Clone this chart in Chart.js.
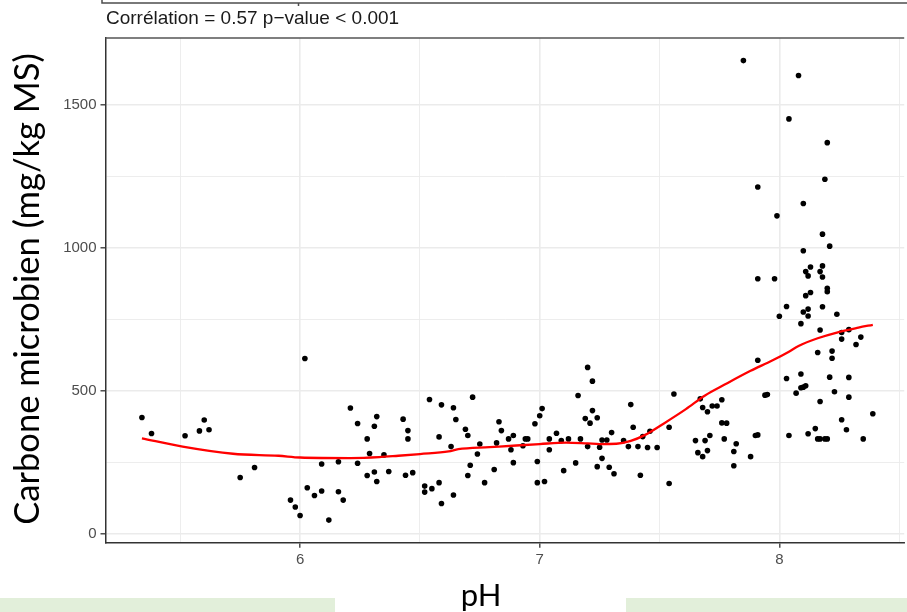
<!DOCTYPE html>
<html>
<head>
<meta charset="utf-8">
<script src="https://cdn.jsdelivr.net/npm/chart.js@4.4.1/dist/chart.umd.min.js"></script>
<style>
  html, body { margin: 0; padding: 0; background: #fff; overflow: hidden; }
  #wrap { position: relative; width: 907px; height: 612px; }
</style>
</head>
<body>
<div id="wrap"><canvas id="chart" width="907" height="612"></canvas></div>
<script>
// pH of each sample (x) and microbial carbon in mg/kg MS (y)
const phValues = [
  5.34, 5.38, 5.52, 5.58, 5.60, 5.62, 5.75, 5.81, 5.96, 5.98,
  6.00, 6.02, 6.03, 6.06, 6.09, 6.09, 6.12, 6.16, 6.16, 6.18,
  6.21, 6.24, 6.24, 6.28, 6.31, 6.32, 6.29, 6.28, 6.31, 6.32,
  6.35, 6.37, 6.43, 6.45, 6.45, 6.44, 6.47, 6.54, 6.59, 6.58,
  6.52, 6.52, 6.55, 6.58, 6.59, 6.64, 6.65, 6.63, 6.64, 6.72,
  6.69, 6.70, 6.75, 6.74, 6.71, 6.70, 6.77, 6.83, 6.84, 6.82,
  6.81, 6.87, 6.89, 6.88, 6.89, 6.93, 6.94, 6.95, 6.98, 7.00,
  7.01, 6.99, 6.99, 7.02, 7.04, 7.04, 7.07, 7.09, 7.10, 7.12,
  7.16, 7.15, 7.17, 7.20, 7.22, 7.19, 7.21, 7.22, 7.24, 7.20,
  7.25, 7.26, 7.28, 7.26, 7.24, 7.29, 7.31, 7.30, 7.35, 7.38,
  7.39, 7.37, 7.41, 7.42, 7.43, 7.46, 7.45, 7.49, 7.54, 7.54,
  7.56, 7.65, 7.67, 7.68, 7.70, 7.72, 7.74, 7.76, 7.76, 7.78,
  7.77, 7.71, 7.69, 7.66, 7.68, 7.70, 7.81, 7.82, 7.81, 7.88,
  7.90, 7.91, 7.94, 7.95, 7.91, 7.85, 8.08, 8.04, 8.20, 8.19,
  7.91, 8.10, 7.99, 8.18, 8.21, 8.10, 8.13, 8.11, 8.18, 8.17,
  8.12, 8.18, 7.91, 7.98, 8.20, 8.20, 8.13, 8.11, 8.03, 8.12,
  8.18, 8.10, 8.12, 8.00, 8.24, 8.09, 8.17, 8.29, 8.26, 8.26,
  8.34, 8.32, 8.16, 8.22, 8.22, 8.03, 8.09, 8.21, 8.29, 8.09,
  8.10, 8.11, 8.07, 8.23, 8.29, 8.17, 8.39, 8.26, 8.28, 8.15,
  8.12, 8.04, 8.16, 8.17, 8.19, 8.20, 8.35
];
const carbonValues = [
  407, 351, 343, 360, 398, 364, 197, 232, 118, 94,
  64, 613, 161, 134, 244, 150, 48, 252, 147, 118,
  440, 386, 247, 332, 376, 410, 281, 204, 216, 183,
  276, 218, 401, 361, 332, 205, 214, 470, 451, 339,
  167, 146, 158, 179, 106, 441, 400, 305, 136, 478,
  366, 344, 314, 279, 240, 204, 179, 392, 361, 318,
  225, 332, 344, 294, 249, 308, 332, 332, 385, 413,
  438, 253, 179, 183, 332, 294, 352, 326, 221, 332,
  484, 248, 332, 582, 534, 403, 387, 431, 406, 305,
  303, 328, 328, 264, 235, 233, 210, 354, 326, 452,
  373, 305, 305, 205, 340, 359, 302, 302, 373, 176,
  489, 326, 472, 442, 427, 447, 447, 469, 388, 387,
  332, 344, 326, 284, 270, 291, 288, 315, 238, 270,
  344, 346, 485, 487, 607, 1655, 1603, 1451, 1368, 1240,
  1213, 1155, 1112, 1048, 1006, 990, 933, 917, 937, 917,
  902, 898, 892, 892, 859, 847, 844, 833, 795, 786,
  794, 776, 762, 761, 768, 735, 713, 714, 704, 681,
  688, 662, 634, 639, 614, 543, 559, 548, 547, 511,
  513, 518, 492, 497, 478, 463, 420, 399, 364, 368,
  350, 344, 332, 332, 332, 332, 332
];

// loess smooth (red curve)
const loessPh = [5.34, 5.51, 5.72, 5.91, 6.00, 6.21, 6.33, 6.41, 6.50, 6.62,
  6.66, 6.79, 6.83, 7.00, 7.11, 7.20, 7.25, 7.32, 7.38, 7.44,
  7.52, 7.61, 7.69, 7.77, 7.88, 7.97, 8.04, 8.08, 8.16, 8.24, 8.33, 8.39];
const loessCarbon = [334, 305, 280, 273, 267, 265, 268, 273, 279, 288,
  296, 303, 305, 314, 319, 316, 314, 315, 325, 346,
  387, 436, 484, 521, 570, 606, 637, 657, 684, 704, 721, 731];

const xMajor = [6, 7, 8];
const xGrid = [5.5, 6, 6.5, 7, 7.5, 8, 8.5];
const yMajor = [0, 500, 1000, 1500];
const yGrid = [0, 250, 500, 750, 1000, 1250, 1500];

const subtitleText = 'Corrélation = 0.57 p\u2212value < 0.001';
const yTitleText = 'Carbone microbien (mg/kg MS)';
const xTitleText = 'pH';

const tickFont = { family: "'Liberation Sans', Arial, sans-serif", size: 15 };

// extra drawing: frame of the panel above, subtitle, axis titles, slide boxes
const decorPlugin = {
  id: 'decor',
  afterDraw(chart) {
    const ctx = chart.ctx;
    const area = chart.chartArea;
    ctx.save();

    // green boxes at the bottom of the slide
    ctx.fillStyle = '#E2EFDA';
    ctx.fillRect(0, 598, 335, 14);
    ctx.fillRect(626, 598, 281, 14);

    // bottom edge of the panel above
    ctx.strokeStyle = '#4d4d4d';
    ctx.lineWidth = 1.5;
    ctx.beginPath();
    ctx.moveTo(102, 0);
    ctx.lineTo(102, 3);
    ctx.lineTo(907, 3);
    ctx.moveTo(298.5, 3);
    ctx.lineTo(298.5, 6);
    ctx.stroke();

    // top border of the panel
    ctx.strokeStyle = '#555';
    ctx.beginPath();
    ctx.moveTo(area.left, area.top);
    ctx.lineTo(area.right, area.top);
    ctx.stroke();

    // subtitle
    ctx.fillStyle = '#1a1a1a';
    ctx.font = "19px 'Liberation Sans', Arial, sans-serif";
    ctx.textAlign = 'left';
    ctx.textBaseline = 'alphabetic';
    ctx.fillText(subtitleText, 106, 24);

    // axis titles
    ctx.fillStyle = '#000';
    ctx.font = "31px Lato, 'Open Sans', sans-serif";
    ctx.textAlign = 'center';
    ctx.fillText(xTitleText, 481, 606);

    ctx.font = "34.5px Lato, 'Open Sans', sans-serif";
    ctx.translate(39, 289);
    ctx.rotate(-Math.PI / 2);
    ctx.fillText(yTitleText, 0, 0);
    ctx.restore();
  }
};

const ctx = document.getElementById('chart').getContext('2d');
const scatterChart = new Chart(ctx, {
  type: 'scatter',
  data: {
    datasets: [
      {
        type: 'line',
        label: 'loess',
        data: loessPh.map((x, i) => ({ x, y: loessCarbon[i] })),
        borderColor: '#FF0000',
        borderWidth: 2.3,
        pointRadius: 0,
        fill: false,
        cubicInterpolationMode: 'monotone'
      },
      {
        label: 'Carbone microbien',
        data: phValues.map((x, i) => ({ x, y: carbonValues[i] })),
        backgroundColor: '#000',
        borderWidth: 0,
        pointRadius: 2.8,
        pointHoverRadius: 2.8
      }
    ]
  },
  options: {
    responsive: false,
    animation: false,
    devicePixelRatio: 1,
    layout: { padding: { top: 38, left: 0, right: 0, bottom: 0 } },
    plugins: {
      legend: { display: false },
      tooltip: { enabled: false }
    },
    scales: {
      x: {
        type: 'linear',
        min: 5.188,
        max: 8.521,
        afterBuildTicks: s => { s.ticks = xGrid.map(v => ({ value: v })); },
        afterFit: s => { s.height = 69.3; },
        border: { display: true, color: '#333', width: 1.5 },
        grid: {
          color: '#EBEBEB',
          lineWidth: c => (c.tick && xMajor.includes(c.tick.value) ? 1.6 : 0.9),
          tickColor: c => (c.tick && xMajor.includes(c.tick.value) ? '#333' : 'rgba(0,0,0,0)'),
          tickLength: 5,
          tickWidth: 1.3
        },
        ticks: {
          autoSkip: false,
          maxRotation: 0,
          padding: 3,
          color: '#4d4d4d',
          font: tickFont,
          callback: v => (xMajor.includes(v) ? String(v) : '')
        }
      },
      y: {
        type: 'linear',
        min: -31,
        max: 1734,
        afterBuildTicks: s => { s.ticks = yGrid.map(v => ({ value: v })); },
        afterFit: s => { s.width = 105.5; },
        border: { display: true, color: '#333', width: 1.5 },
        grid: {
          color: '#EBEBEB',
          lineWidth: c => (c.tick && yMajor.includes(c.tick.value) ? 1.6 : 0.9),
          tickColor: c => (c.tick && yMajor.includes(c.tick.value) ? '#333' : 'rgba(0,0,0,0)'),
          tickLength: 5,
          tickWidth: 1.3
        },
        ticks: {
          autoSkip: false,
          padding: 4,
          color: '#4d4d4d',
          font: tickFont,
          callback: v => (yMajor.includes(v) ? String(v) : '')
        }
      }
    }
  },
  plugins: [decorPlugin]
});
</script>
</body>
</html>
